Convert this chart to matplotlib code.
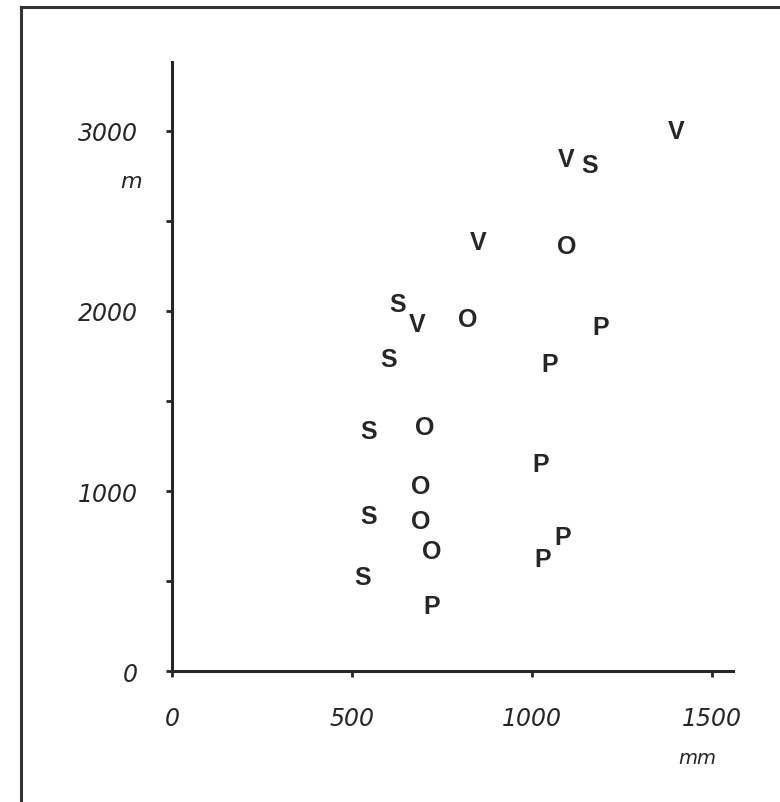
import matplotlib
matplotlib.use('Agg')
import matplotlib.pyplot as plt
from matplotlib.lines import Line2D

# precipitation (mm) vs altitude (m), one letter per site type
s_mm = [1160, 628, 603, 545, 547, 530]
s_m = [2810, 2040, 1735, 1335, 860, 522]

v_mm = [1400, 1095, 850, 680]
v_m = [3000, 2845, 2385, 1930]

o_mm = [1095, 822, 703, 690, 692, 722]
o_m = [2360, 1955, 1355, 1030, 835, 665]

p_mm = [1190, 1050, 1025, 1085, 1030, 720]
p_m = [1910, 1705, 1150, 745, 622, 360]

x_ticks = [0, 500, 1000, 1500]
y_ticks = [0, 1000, 2000, 3000]
y_minor = [500, 1500, 2500]

ink = '#262626'

fig = plt.figure(figsize=(7.8, 8.03), dpi=100)
ax = fig.add_axes([0.2205, 0.1631, 0.7192, 0.7584])

groups = [('S', s_mm, s_m), ('V', v_mm, v_m), ('O', o_mm, o_m), ('P', p_mm, p_m)]
for letter, xs, ys in groups:
    for x, y in zip(xs, ys):
        ax.text(x, y, letter, ha='center', va='center', fontsize=18,
                fontweight='bold', family='Liberation Sans', color=ink)

ax.set_xlim(0, 1558)
ax.set_ylim(0, 3383)

for side in ['top', 'right']:
    ax.spines[side].set_visible(False)
for side in ['left', 'bottom']:
    ax.spines[side].set_linewidth(2.2)
    ax.spines[side].set_color(ink)

tick_font = dict(family='DejaVu Sans', style='italic', size=17, color=ink)
ax.set_xticks(x_ticks)
ax.set_xticklabels([str(t) for t in x_ticks], fontdict=tick_font)
ax.set_yticks(y_ticks)
ax.set_yticklabels([str(t) for t in y_ticks], fontdict=tick_font)
ax.set_yticks(y_minor, minor=True)
ax.tick_params(axis='both', which='both', direction='out', length=4.5, width=2,
               color=ink)
ax.tick_params(axis='y', which='major', pad=20)
ax.tick_params(axis='x', which='major', pad=21)

# unit labels
ax.text(-85, 2722, 'm', ha='right', va='center', clip_on=False,
        family='DejaVu Sans', style='italic', size=16, color=ink)
ax.text(1458, -478, 'mm', ha='center', va='center', clip_on=False,
        family='DejaVu Sans', style='italic', size=14, color=ink)

# scan frame (left and top edges)
fig.add_artist(Line2D([0.0269, 0.0269], [0, 0.990], transform=fig.transFigure,
                      color='#333333', linewidth=2.2))
fig.add_artist(Line2D([0.0269, 1], [0.990, 0.990], transform=fig.transFigure,
                      color='#333333', linewidth=2.2))

fig.savefig('out.png', dpi=100, facecolor='white')
